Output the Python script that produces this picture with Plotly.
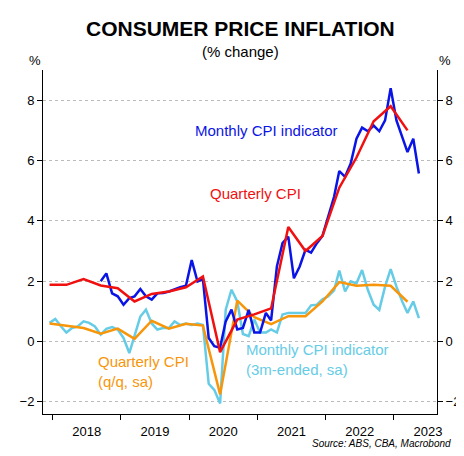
import pandas as pd
import plotly.graph_objects as go

# Quarterly CPI, Dec 2017 - Mar 2023
quarters = pd.date_range("2017-12-01", "2023-03-01", freq="3MS") + pd.Timedelta(days=14)
cpi_yy = [1.88, 1.88, 2.07, 1.86, 1.77, 1.33, 1.58, 1.66, 1.8, 2.16, -0.35, 0.73,
          0.9, 1.1, 3.8, 3.0, 3.5, 5.1, 6.1, 7.3, 7.8, 7.0]
cpi_qq = [0.6, 0.53, 0.45, 0.26, 0.43, 0.09, 0.69, 0.43, 0.59, 0.53, -1.75, 1.36,
          0.81, 0.58, 0.84, 0.84, 1.33, 1.97, 1.85, 1.88, 1.85, 1.32]

# Monthly CPI indicator (y/y), Sep 2018 - May 2023
months_yy = pd.date_range("2018-09-01", "2023-05-01", freq="MS") + pd.Timedelta(days=14)
monthly_yy = [2.0, 2.26, 1.6, 1.5,
              1.22, 1.44, 1.5, 1.74, 1.5, 1.39, 1.6, 1.61, 1.66, 1.74, 1.8, 1.85,
              2.7, 1.99, 2.07, 0.12, -0.15, -0.2, 0.67, 1.06, 0.4, 0.45, 1.05, 0.3,
              0.3, 0.95, 0.7, 2.49, 3.26, 3.48, 2.1, 2.49, 3.04, 2.95, 3.26, 3.5,
              4.14, 4.8, 5.65, 5.46, 5.9, 6.72, 7.09, 6.97, 7.16, 6.97, 7.33, 8.4,
              7.33, 6.78, 6.28, 6.72, 5.57]

# Monthly CPI indicator (3m-ended, sa), Dec 2017 - May 2023
months_3m = pd.date_range("2017-12-01", "2023-05-01", freq="MS") + pd.Timedelta(days=14)
monthly_3m = [0.62,
              0.75, 0.5, 0.3, 0.45, 0.5, 0.67, 0.62, 0.5, 0.23, 0.42, 0.48, 0.4,
              0.12, -0.38, 0.18, 0.83, 1.06, 0.6, 0.4, 0.45, 0.45, 0.67, 0.55, 0.6,
              0.55, 0.6, 0.55, -1.4, -1.6, -2.05, 1.06, 1.72, 1.33, 0.25, 0.18, 0.73,
              0.3, 0.3, 0.4, 0.3, 0.9, 0.95, 0.95, 0.95, 0.95, 1.2, 1.22, 1.4,
              1.5, 1.7, 2.35, 1.66, 2.0, 1.93, 2.37, 1.71, 1.22, 1.05, 1.82, 2.4,
              1.82, 1.33, 0.95, 1.33, 0.78]

BLUE = "#0a14e6"
RED = "#f01010"
ORANGE = "#f7960a"
CYAN = "#66cce6"

fig = go.Figure()
fig.add_trace(go.Scatter(x=months_3m, y=monthly_3m, mode="lines", line=dict(color=CYAN, width=2.5)))
fig.add_trace(go.Scatter(x=quarters, y=cpi_qq, mode="lines", line=dict(color=ORANGE, width=2.5)))
fig.add_trace(go.Scatter(x=months_yy, y=monthly_yy, mode="lines", line=dict(color=BLUE, width=2.5)))
fig.add_trace(go.Scatter(x=quarters, y=cpi_yy, mode="lines", line=dict(color=RED, width=2.5)))
fig.add_trace(go.Scatter(x=quarters, y=cpi_yy, yaxis="y2", mode="lines", line=dict(width=0),
                         hoverinfo="skip", showlegend=False))

yrange = [-2.4, 9.0]
ticks = dict(tickvals=[-2, 0, 2, 4, 6, 8], ticks="outside", ticklen=5, tickcolor="black",
             showline=True, linecolor="black", linewidth=1, zeroline=False,
             tickfont=dict(size=13, color="black"))

fig.update_layout(
    width=464, height=456,
    margin=dict(l=33, r=34, t=62, b=50),
    paper_bgcolor="white", plot_bgcolor="white",
    font=dict(family="Liberation Sans, Arial, sans-serif", color="black"),
    showlegend=False,
    xaxis=dict(range=["2017-11-10", "2023-08-20"], tick0="2018-01-01", dtick="M12",
               ticklabelmode="period", tickformat="%Y", ticks="outside", ticklen=5,
               tickcolor="black", showline=True, linecolor="black", showgrid=False,
               tickfont=dict(size=13, color="black")),
    yaxis=dict(range=yrange, showgrid=True, gridcolor="#bbbbbb", griddash="dot", **ticks),
    yaxis2=dict(range=yrange, overlaying="y", side="right", showgrid=False, **ticks),
    annotations=[
        dict(text="<b>CONSUMER PRICE INFLATION</b>", x=0.5, y=1.0, xref="paper", yref="paper",
             yanchor="bottom", yshift=28, showarrow=False, font=dict(size=21)),
        dict(text="(% change)", x=0.5, y=1.0, xref="paper", yref="paper", yanchor="bottom",
             yshift=8, showarrow=False, font=dict(size=15)),
        dict(text="%", x=0, y=1.0, xref="paper", yref="paper", xanchor="right", yanchor="bottom",
             showarrow=False, font=dict(size=13)),
        dict(text="%", x=1, y=1.0, xref="paper", yref="paper", xanchor="left", yanchor="bottom",
             showarrow=False, font=dict(size=13)),
        dict(text="Monthly CPI indicator", x="2021-02-20", y=7.0, showarrow=False,
             font=dict(size=15, color=BLUE)),
        dict(text="Quarterly CPI", x="2020-12-20", y=4.9, showarrow=False,
             font=dict(size=15, color=RED)),
        dict(text="Quarterly CPI<br>(q/q, sa)", x="2018-08-20", y=-1.0, xanchor="left",
             align="left", showarrow=False, font=dict(size=15, color=ORANGE)),
        dict(text="Monthly CPI indicator<br>(3m-ended, sa)", x="2020-10-20", y=-0.6,
             xanchor="left", align="left", showarrow=False, font=dict(size=15, color=CYAN)),
        dict(text="<i>Source: ABS, CBA, Macrobond</i>", x=1.04, y=0, xref="paper", yref="paper",
             xanchor="right", yanchor="top", yshift=-22, showarrow=False, font=dict(size=10)),
    ],
)

fig.write_html("out.html")
